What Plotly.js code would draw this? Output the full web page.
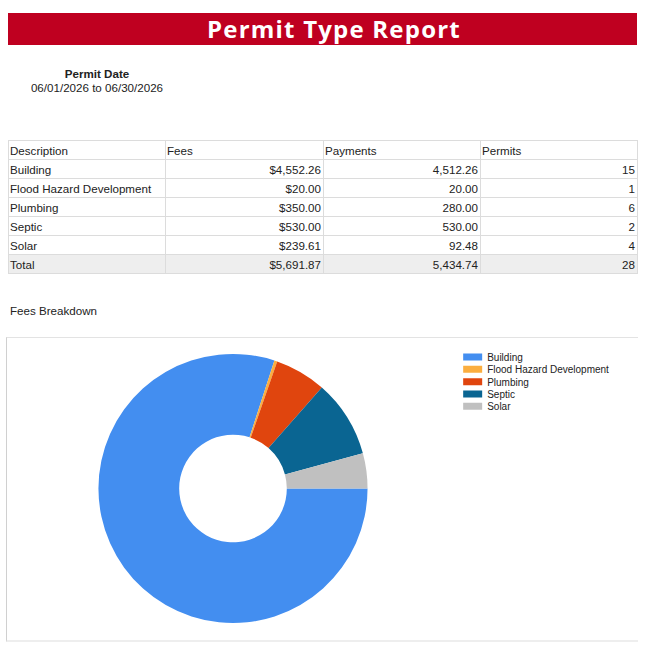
<!DOCTYPE html>
<html>
<head>
<meta charset="utf-8">
<script src="https://cdn.plot.ly/plotly-3.0.1.min.js"></script>
<style>
  body { margin: 0; background: #fff; font-family: "Liberation Sans", Arial, sans-serif; color: #222; }
  .banner { position: absolute; left: 8px; top: 13px; width: 606px; padding-left: 23px; height: 32px; background: #BF0020;
    color: #fff; font-family: "Open Sans", sans-serif; font-weight: 700; font-size: 24px; letter-spacing: 1.2px;
    line-height: 32px; text-align: center; }
  .range { position: absolute; left: 22px; top: 67px; width: 150px; text-align: center; font-size: 11.6px; line-height: 14px; }
  .range b { display: block; }
  table { position: absolute; left: 8px; top: 140px; width: 629px; border-collapse: collapse; font-size: 11.6px; table-layout: fixed; }
  td { border: 1px solid #dcdcdc; height: 17px; padding: 1px 2px 0 1px; white-space: nowrap; }
  td.num { text-align: right; }
  tr.total td { background: #eeeeee; }
  .sub { position: absolute; left: 10px; top: 304px; font-size: 11.6px; }
  .box { position: absolute; left: 6px; top: 337px; width: 631px; height: 302px;
    border-top: 1px solid #e3e3e3; border-left: 1px solid #d0d0d0; border-bottom: 2px solid #eeeeee; }
  #pie { position: absolute; left: 0; top: 0; width: 631px; height: 302px; }
</style>
</head>
<body>
<div class="banner">Permit Type Report</div>
<div class="range"><b>Permit Date</b>06/01/2026 to 06/30/2026</div>
<table id="tbl"></table>
<div class="sub">Fees Breakdown</div>
<div class="box"><div id="pie"></div></div>
<script>
// ─── Report data ───
const categories = ["Building", "Flood Hazard Development", "Plumbing", "Septic", "Solar"];
const fees = [4552.26, 20.00, 350.00, 530.00, 239.61];
const payments = [4512.26, 20.00, 280.00, 530.00, 92.48];
const permits = [15, 1, 6, 2, 4];
const sliceColors = ["#438EF0", "#FBAE3F", "#E0450E", "#0A6592", "#C0C0C0"];

const money = (v) => v.toLocaleString("en-US", { minimumFractionDigits: 2, maximumFractionDigits: 2 });
const sum = (a) => a.reduce((s, v) => s + v, 0);

// ─── Summary table ───
let html = '<colgroup><col style="width:157px"><col style="width:158px"><col style="width:157px"><col style="width:157px"></colgroup>';
html += "<tr><td>Description</td><td>Fees</td><td>Payments</td><td>Permits</td></tr>";
categories.forEach((c, i) => {
  html += `<tr><td>${c}</td><td class="num">$${money(fees[i])}</td><td class="num">${money(payments[i])}</td><td class="num">${permits[i]}</td></tr>`;
});
html += `<tr class="total"><td>Total</td><td class="num">$${money(sum(fees))}</td><td class="num">${money(sum(payments))}</td><td class="num">${sum(permits)}</td></tr>`;
document.getElementById("tbl").innerHTML = html;

// ─── Fees donut ───
Plotly.newPlot(
  "pie",
  [
    {
      type: "pie",
      labels: categories,
      values: fees,
      hole: 0.4,
      sort: false,
      direction: "clockwise",
      rotation: 90,
      textinfo: "none",
      hoverinfo: "label+value",
      marker: { colors: sliceColors, line: { width: 0 } },
      domain: { x: [0.1442, 0.5721], y: [0.0561, 0.9472] },
    },
  ],
  {
    width: 631,
    height: 302,
    margin: { l: 0, r: 0, t: 0, b: 0 },
    paper_bgcolor: "#fff",
    showlegend: true,
    legend: {
      x: 0.7055,
      xanchor: "left",
      y: 0.985,
      yanchor: "top",
      font: { family: "Liberation Sans, Arial, sans-serif", size: 10, color: "#222" },
      tracegroupgap: 0,
      itemwidth: 30,
    },
  },
  { displayModeBar: false, staticPlot: true },
).then(() => {
  // tighter legend like the original report: flat swatches, 12px row pitch
  const items = document.querySelectorAll("#pie .legend .traces");
  let y0 = null;
  items.forEach((g, i) => {
    const m = /translate\(([-\d.]+)[ ,]+([-\d.]+)\)/.exec(g.getAttribute("transform") || "");
    const x = m ? parseFloat(m[1]) : 0;
    if (y0 === null) y0 = m ? parseFloat(m[2]) : 0;
    g.setAttribute("transform", `translate(${x},${y0 + i * 12.3})`);
    const p = g.querySelector(".legendpoints path");
    if (p) p.setAttribute("d", "M-9,-3.5h19v7h-19z");
    const t = g.querySelector("text.legendtext");
    if (t) t.setAttribute("x", 35);
  });
});
</script>
</body>
</html>
